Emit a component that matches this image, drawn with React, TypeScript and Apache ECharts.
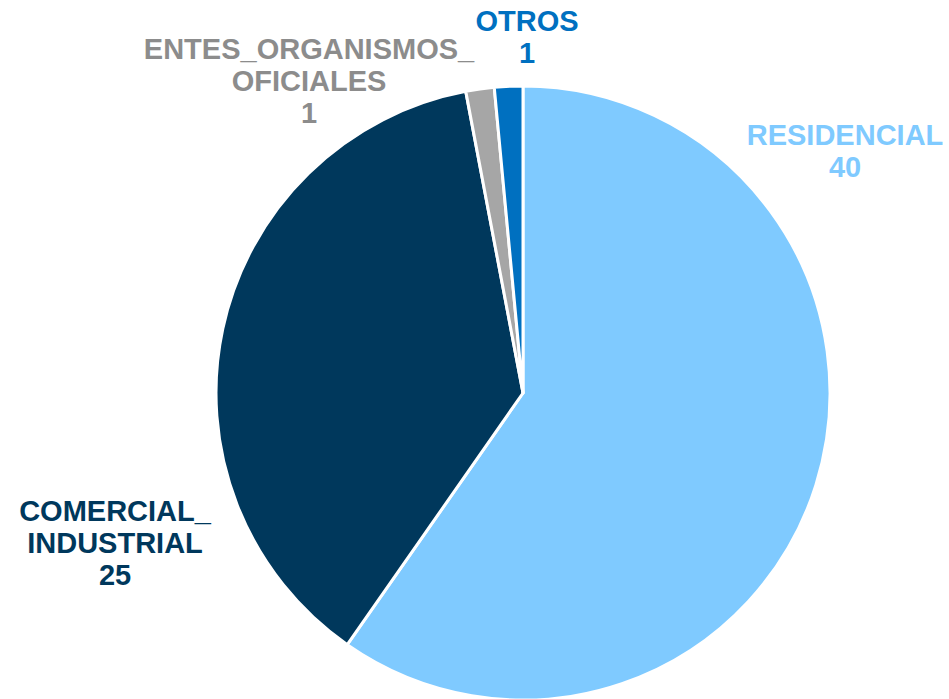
import React, { useEffect, useRef } from "react";
import * as echarts from "echarts";

const categories = ["RESIDENCIAL", "COMERCIAL_INDUSTRIAL", "ENTES_ORGANISMOS_OFICIALES", "OTROS"];
const displayNames = ["RESIDENCIAL", "COMERCIAL_\nINDUSTRIAL", "ENTES_ORGANISMOS_\nOFICIALES", "OTROS"];
const values = [40, 25, 1, 1];
const sliceColors = ["#7FCAFF", "#00385C", "#A6A6A6", "#0070C0"];
const labelColors = ["#7FCAFF", "#00385C", "#8C8C8C", "#0070C0"];
// label block centres (layout)
const labelPos = [
  [845, 151],
  [115, 543],
  [309, 81],
  [527, 37],
];

export default function App() {
  const ref = useRef<HTMLDivElement>(null);
  useEffect(() => {
    if (!ref.current) return;
    const chart = echarts.init(ref.current, undefined, { renderer: "svg" });
    chart.setOption({
      animation: false,
      backgroundColor: "#ffffff",
      series: [
        {
          type: "pie",
          center: [523, 393],
          radius: [0, 307],
          startAngle: 90,
          clockwise: true,
          avoidLabelOverlap: false,
          itemStyle: { borderColor: "#ffffff", borderWidth: 3 },
          label: {
            show: true,
            position: "outside",
            fontFamily: "Liberation Sans, Arial, sans-serif",
            fontWeight: "bold",
            fontSize: 29,
            lineHeight: 32,
            align: "center",
          },
          labelLine: { show: false },
          labelLayout: (params: any) => {
            const p = labelPos[params.dataIndex];
            return { x: p[0], y: p[1], align: "center", verticalAlign: "middle" };
          },
          data: categories.map((c, i) => ({
            name: c,
            value: values[i],
            itemStyle: { color: sliceColors[i] },
            label: {
              color: labelColors[i],
              formatter: displayNames[i] + "\n" + values[i],
            },
          })),
        },
      ],
    });
    return () => chart.dispose();
  }, []);
  return (
    <div
      ref={ref}
      style={{ position: "fixed", left: 0, top: 0, width: 949, height: 699 }}
    />
  );
}
